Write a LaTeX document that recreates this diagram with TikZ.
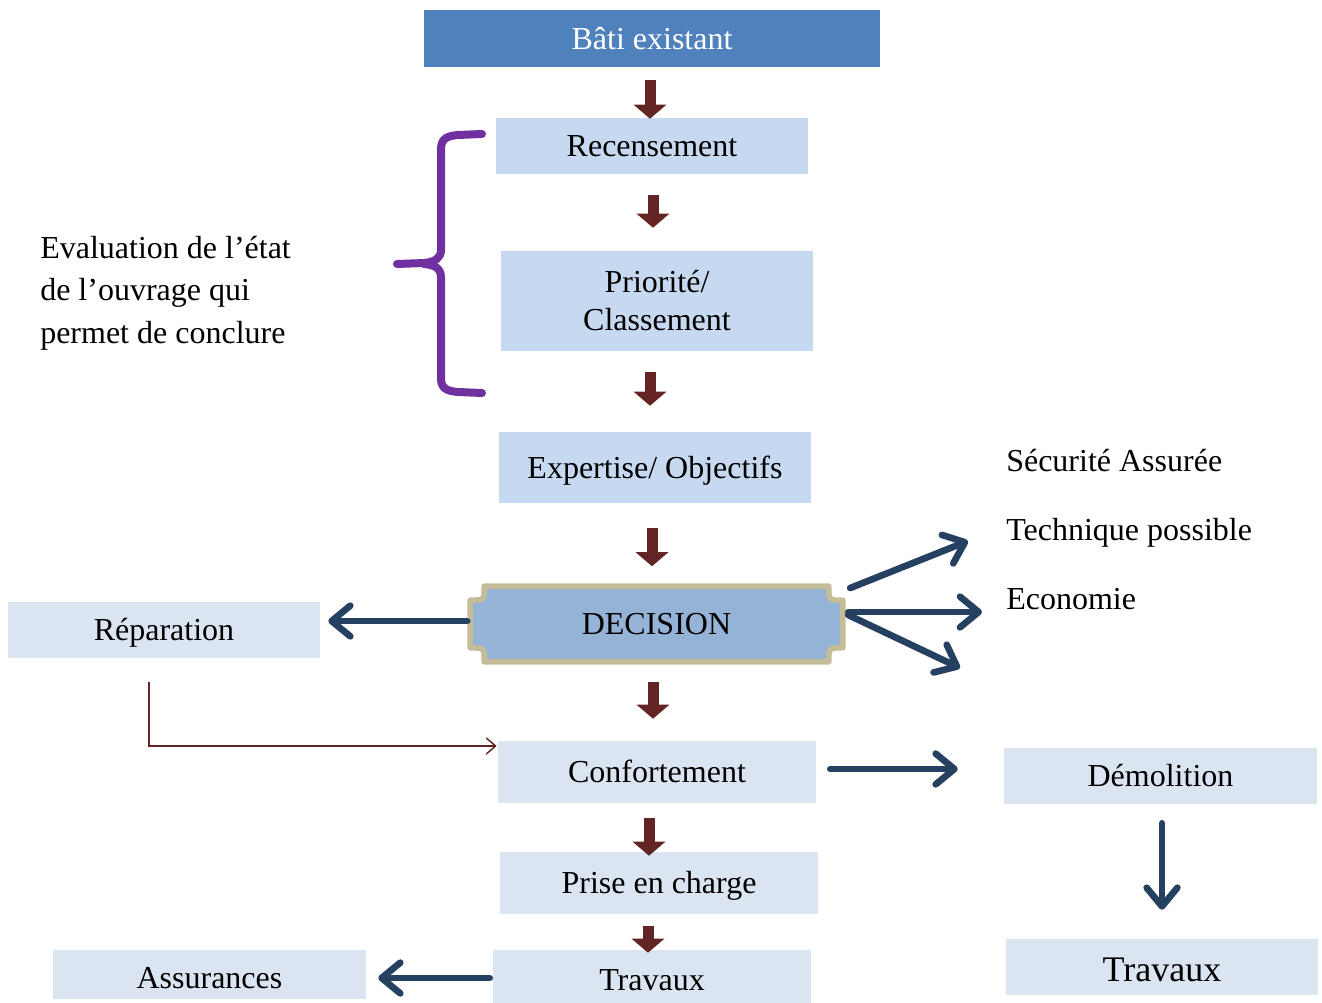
\documentclass[tikz,border=0pt]{standalone}
\usepackage{fontspec}
\setmainfont{Liberation Serif}
\usetikzlibrary{arrows.meta,calc,backgrounds}
\definecolor{batiblue}{HTML}{4F81BD}
\definecolor{lightA}{HTML}{C6D9F1}
\definecolor{lightB}{HTML}{DBE5F1}
\definecolor{decfill}{HTML}{95B3D7}
\definecolor{decborder}{HTML}{C4BD97}
\definecolor{darkred}{HTML}{632523}
\definecolor{navy}{HTML}{254061}
\definecolor{bracepurple}{HTML}{7030A0}
\begin{document}
\begin{tikzpicture}[x=0.75pt,y=-0.75pt,
  box/.style={inner sep=0pt, align=center, font=\fontsize{24}{28.5}\selectfont, text height=16.3pt, text depth=0.5pt},
  multi/.style={text height=, text depth=},
  sz/.style 2 args={minimum width=#1*0.75pt, minimum height=#2*0.75pt},
  txt/.style={inner sep=0pt, font=\fontsize{24}{32}\selectfont},
  redarr/.style={draw=darkred, line width=8.25pt, -{Triangle[width=24pt,length=10.5pt]}},
  bluearr/.style={draw=navy, line width=5pt, line cap=round, -{Straight Barb[length=14pt,width=23pt,round]}},
  thinarr/.style={draw=darkred, line width=1.1pt, -{Straight Barb[length=7pt,width=12pt]}},
  bracestyle/.style={draw=bracepurple, line width=6pt, line cap=round, line join=round}]
\useasboundingbox (0,0) rectangle (1322,1003);

% boxes
\node[box, sz={456}{57}, fill=batiblue, text=white] (bati) at (652,38.5) {Bâti existant};
\node[box, sz={312}{56}, fill=lightA] (rec) at (652,146) {Recensement};
\node[box, multi, sz={312}{100}, fill=lightA] (prio) at (657,301) {Priorité/\\Classement};
\node[box, sz={312}{71}, fill=lightA] (exp) at (655,467.5) {Expertise/ Objectifs};
\node[box, sz={372}{75}] (dec) at (656.5,624) {DECISION};
\node[box, sz={312}{56}, fill=lightB] (rep) at (164,630) {Réparation};
\node[box, sz={318}{62}, fill=lightB] (conf) at (657,772) {Confortement};
\node[box, sz={318}{62}, fill=lightB] (prise) at (659,883) {Prise en charge};
\node[box, sz={318}{53}, fill=lightB, text height=21.5pt] (trav) at (652,976.5) {Travaux};
\node[box, sz={313}{49}, fill=lightB, text height=21.5pt] (ass) at (209.5,974.5) {Assurances};
\node[box, sz={313}{56}, fill=lightB] (dem) at (1160.5,776) {Démolition};
\node[box, sz={312}{56}, fill=lightB, font=\fontsize{27}{32}\selectfont, text height=21.5pt] (trav2) at (1162,967) {Travaux};

% decision plaque
\begin{scope}[on background layer]
\draw[decborder, line width=4.2pt, fill=decfill, line join=round]
  ($(dec.north west)+(14,0)$) -- ($(dec.north east)+(-14,0)$)
  .. controls ($(dec.north east)+(-14,14)$) .. ($(dec.north east)+(0,14)$)
  -- ($(dec.south east)+(0,-14)$)
  .. controls ($(dec.south east)+(-14,-14)$) .. ($(dec.south east)+(-14,0)$)
  -- ($(dec.south west)+(14,0)$)
  .. controls ($(dec.south west)+(14,-14)$) .. ($(dec.south west)+(0,-14)$)
  -- ($(dec.north west)+(0,14)$)
  .. controls ($(dec.north west)+(14,14)$) .. cycle;
\end{scope}

% texts
\node[txt, anchor=west, align=left] (evaltxt) at (40,293) {Evaluation de l’état\\de l’ouvrage qui\\permet de conclure};
\node[txt, anchor=base west] (secu) at (1006,471) {Sécurité Assurée};
\node[txt, anchor=base west] (tech) at (1006,540) {Technique possible};
\node[txt, anchor=base west] (eco) at (1006,609) {Economie};

% red block arrows
\draw[redarr] ($(bati.south)+(-2,13)$) -- ($(rec.north)+(-2,1)$);
\draw[redarr] ($(rec.south)+(1,21)$) -- ($(prio.north)+(-4,-23)$);
\draw[redarr] ($(prio.south)+(-7,21)$) -- ($(exp.north)+(-5,-26)$);
\draw[redarr] ($(exp.south)+(-3,25)$) -- ($(dec.north)+(-4.5,-20)$);
\draw[redarr] ($(dec.south)+(-3.5,20)$) -- ($(conf.north)+(-4,-22)$);
\draw[redarr] ($(conf.south)+(-8,15)$) -- ($(prise.north)+(-10,4)$);
\draw[redarr] ($(prise.south)+(-11,12)$) -- ($(trav.north)+(-4,3)$);

% blue arrows
\coordinate (tA) at (968,541);
\coordinate (tB) at (982,612);
\coordinate (tC) at (960,668);
\draw[bluearr] ($(dec.east)+(7.5,-36)$) -- (tA);
\draw[bluearr] ($(dec.east)+(5.5,-12)$) -- (tB);
\draw[bluearr] ($(dec.east)+(5.5,-9)$) -- (tC);
\draw[bluearr] ($(dec.west)+(-3,-3)$) -- ($(rep.east)+(8,-9)$);
\draw[bluearr] ($(conf.east)+(14,-3)$) -- ($(dem.west)+(-46,-7)$);
\draw[bluearr] ($(dem.south)+(1.5,19)$) -- ($(trav2.north)+(0,-29)$);
\draw[bluearr] ($(trav.west)+(-3,1.5)$) -- ($(ass.east)+(12,3.5)$);

% thin red connector
\draw[thinarr] ($(rep.south)+(-15,24)$) |- ($(conf.west)+(-1,-26)$);

% brace
\draw[bracestyle] (482,134) -- (458,135) .. controls (446,136) and (441,139) .. (441,150)
  -- (441,250) .. controls (441,258) and (435,262) .. (424,263) -- (397,264);
\draw[bracestyle] (424,264) .. controls (435,265) and (441,268) .. (441,278)
  -- (441,378) .. controls (441,388) and (446,391) .. (458,392) -- (482,393);
\end{tikzpicture}
\end{document}
